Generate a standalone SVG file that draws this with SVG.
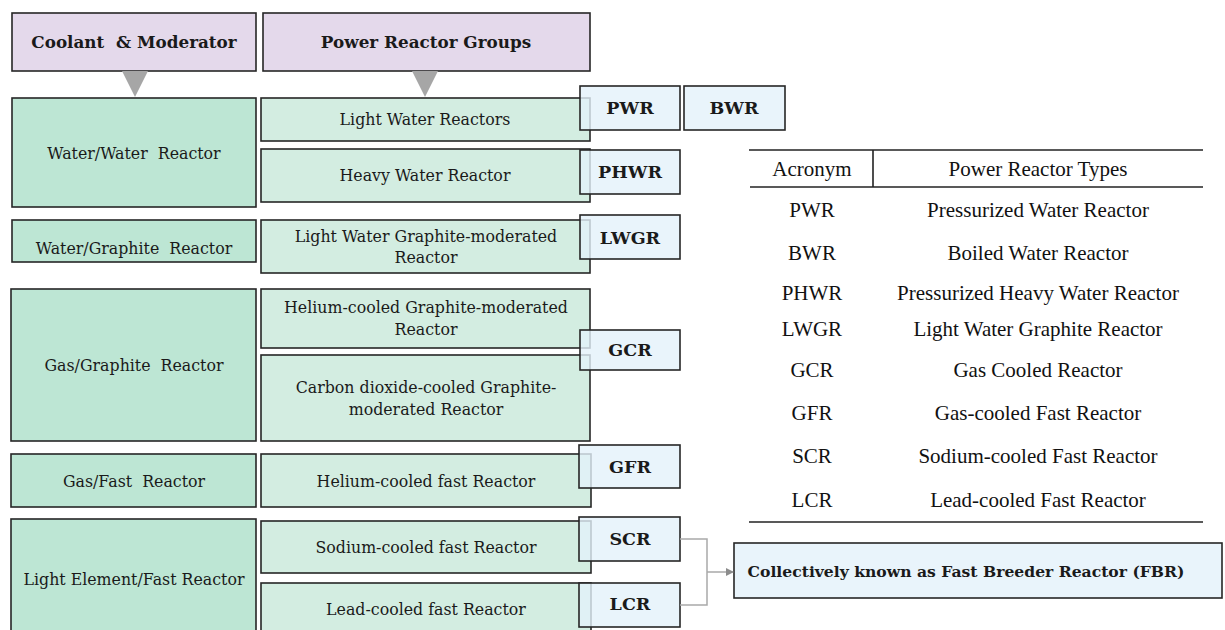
<svg xmlns="http://www.w3.org/2000/svg" width="1225" height="630" viewBox="0 0 1225 630">
  <style>
    .box { stroke: #262626; stroke-width: 1.6; }
    .hdr { fill: #E4D9EB; }
    .grp { fill: #BDE6D4; }
    .sub { fill: #D3EDE1; }
    .acr { fill: #E3F1FA; fill-opacity: 0.8; }
    .t { font-family: "DejaVu Serif", "Liberation Serif", serif; font-size: 15.8px; fill: #1a1a1a; text-anchor: middle; }
    .b { font-weight: bold; }
    .h { font-size: 16.8px; }
    .a { font-size: 17.5px; }
    .tb { font-family: "Liberation Serif", "Times New Roman", serif; font-size: 21px; fill: #111; text-anchor: middle; }
    .rule { stroke: #222; stroke-width: 1.6; }
    .tri { fill: #A6A6A6; }
    .conn { fill: none; stroke: #A9A9A9; stroke-width: 1.5; }
  </style>
  <defs>
    <marker id="arr" markerWidth="8" markerHeight="8" refX="7" refY="4" orient="auto" markerUnits="userSpaceOnUse">
      <path d="M0,0 L8,4 L0,8 Z" fill="#8C8C8C"/>
    </marker>
  </defs>
  <rect width="1225" height="630" fill="#ffffff"/>

  <!-- column headers -->
  <g id="hdr-coolant">
    <rect class="box hdr" x="12" y="13" width="244" height="58"/>
    <text class="t b h" x="134" y="48">Coolant&#160; &amp; Moderator</text>
    <polygon class="tri" points="122,71 148,71 135,97"/>
  </g>
  <g id="hdr-groups">
    <rect class="box hdr" x="263" y="13" width="327" height="58"/>
    <text class="t b h" x="426" y="48">Power Reactor Groups</text>
    <polygon class="tri" points="412,71 438,71 425,97"/>
  </g>

  <!-- coolant / moderator groups -->
  <g id="g-water-water">
    <rect class="box grp" x="12" y="98" width="244" height="109"/>
    <text class="t" x="134" y="159">Water/Water&#160; Reactor</text>
  </g>
  <g id="g-water-graphite">
    <rect class="box grp" x="12" y="220" width="244" height="42"/>
    <text class="t" x="134" y="254">Water/Graphite&#160; Reactor</text>
  </g>
  <g id="g-gas-graphite">
    <rect class="box grp" x="11" y="289" width="245" height="152"/>
    <text class="t" x="134" y="371">Gas/Graphite&#160; Reactor</text>
  </g>
  <g id="g-gas-fast">
    <rect class="box grp" x="11" y="454" width="245" height="53"/>
    <text class="t" x="134" y="487">Gas/Fast&#160; Reactor</text>
  </g>
  <g id="g-light-fast">
    <rect class="box grp" x="11" y="519" width="245" height="120"/>
    <text class="t" x="134" y="585">Light Element/Fast Reactor</text>
  </g>

  <!-- power reactor groups -->
  <g id="r-lwr">
    <rect class="box sub" x="261" y="98" width="329" height="43"/>
    <text class="t" x="425" y="125">Light Water Reactors</text>
  </g>
  <g id="r-hwr">
    <rect class="box sub" x="261" y="149" width="329" height="53"/>
    <text class="t" x="425" y="181">Heavy Water Reactor</text>
  </g>
  <g id="r-lwgr">
    <rect class="box sub" x="261" y="220" width="329" height="53"/>
    <text class="t" x="426" y="242">Light Water Graphite-moderated</text>
    <text class="t" x="426" y="263">Reactor</text>
  </g>
  <g id="r-hegr">
    <rect class="box sub" x="261" y="289" width="329" height="59"/>
    <text class="t" x="426" y="313">Helium-cooled Graphite-moderated</text>
    <text class="t" x="426" y="335">Reactor</text>
  </g>
  <g id="r-co2gr">
    <rect class="box sub" x="261" y="355" width="329" height="86"/>
    <text class="t" x="426" y="393">Carbon dioxide-cooled Graphite-</text>
    <text class="t" x="426" y="415">moderated Reactor</text>
  </g>
  <g id="r-hefast">
    <rect class="box sub" x="261" y="454" width="330" height="53"/>
    <text class="t" x="426" y="487">Helium-cooled fast Reactor</text>
  </g>
  <g id="r-nafast">
    <rect class="box sub" x="261" y="521" width="330" height="52"/>
    <text class="t" x="426" y="553">Sodium-cooled fast Reactor</text>
  </g>
  <g id="r-pbfast">
    <rect class="box sub" x="261" y="583" width="330" height="60"/>
    <text class="t" x="426" y="615">Lead-cooled fast Reactor</text>
  </g>

  <!-- acronym tags -->
  <g id="a-pwr">
    <rect class="box acr" x="580" y="86" width="100" height="44"/>
    <text class="t b a" x="630" y="114">PWR</text>
  </g>
  <g id="a-bwr">
    <rect class="box acr" x="684" y="86" width="101" height="44"/>
    <text class="t b a" x="734" y="114">BWR</text>
  </g>
  <g id="a-phwr">
    <rect class="box acr" x="580" y="150" width="100" height="44"/>
    <text class="t b a" x="630" y="178">PHWR</text>
  </g>
  <g id="a-lwgr">
    <rect class="box acr" x="580" y="215" width="100" height="44"/>
    <text class="t b a" x="630" y="244">LWGR</text>
  </g>
  <g id="a-gcr">
    <rect class="box acr" x="580" y="330" width="100" height="40"/>
    <text class="t b a" x="630" y="356">GCR</text>
  </g>
  <g id="a-gfr">
    <rect class="box acr" x="579" y="445" width="101" height="43"/>
    <text class="t b a" x="630" y="473">GFR</text>
  </g>
  <g id="a-scr">
    <rect class="box acr" x="579" y="517" width="101" height="44"/>
    <text class="t b a" x="630" y="545">SCR</text>
  </g>
  <g id="a-lcr">
    <rect class="box acr" x="579" y="583" width="101" height="44"/>
    <text class="t b a" x="630" y="610">LCR</text>
  </g>

  <!-- fast breeder note -->
  <g id="fbr">
    <rect class="box acr" x="734" y="543" width="488" height="55"/>
    <text class="t b" x="966" y="577" style="font-size:15.6px">Collectively known as Fast Breeder Reactor (FBR)</text>
  </g>

  <!-- connectors -->
  <g id="connectors">
    <path class="conn" d="M680,539 H707 V605 H680"/>
    <path class="conn" d="M707,572 H733" marker-end="url(#arr)"/>
  </g>

  <!-- acronym table -->
  <g id="table">
    <line class="rule" x1="749" y1="150" x2="1203" y2="150"/>
    <line class="rule" x1="873" y1="150" x2="873" y2="187"/>
    <line class="rule" x1="750" y1="187" x2="1203" y2="187"/>
    <line class="rule" x1="749" y1="522" x2="1203" y2="522"/>
    <text class="tb" x="812" y="176">Acronym</text>
    <text class="tb" x="1038" y="176">Power Reactor Types</text>
    <text class="tb" x="812" y="217">PWR</text>
    <text class="tb" x="1038" y="217">Pressurized Water Reactor</text>
    <text class="tb" x="812" y="260">BWR</text>
    <text class="tb" x="1038" y="260">Boiled Water Reactor</text>
    <text class="tb" x="812" y="300">PHWR</text>
    <text class="tb" x="1038" y="300">Pressurized Heavy Water Reactor</text>
    <text class="tb" x="812" y="336">LWGR</text>
    <text class="tb" x="1038" y="336">Light Water Graphite Reactor</text>
    <text class="tb" x="812" y="377">GCR</text>
    <text class="tb" x="1038" y="377">Gas Cooled Reactor</text>
    <text class="tb" x="812" y="420">GFR</text>
    <text class="tb" x="1038" y="420">Gas-cooled Fast Reactor</text>
    <text class="tb" x="812" y="463">SCR</text>
    <text class="tb" x="1038" y="463">Sodium-cooled Fast Reactor</text>
    <text class="tb" x="812" y="507">LCR</text>
    <text class="tb" x="1038" y="507">Lead-cooled Fast Reactor</text>
  </g>
</svg>
